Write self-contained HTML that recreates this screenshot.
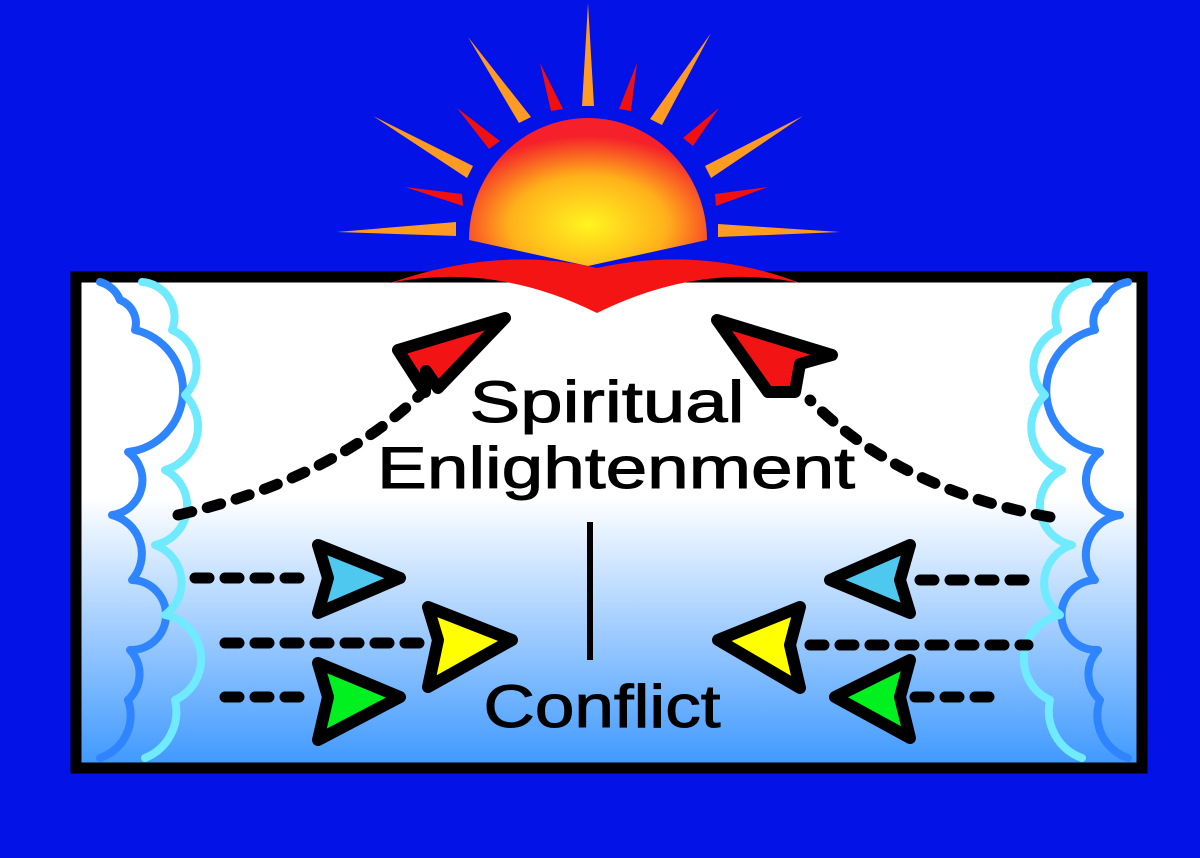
<!DOCTYPE html>
<html><head><meta charset="utf-8"><style>
html,body{margin:0;padding:0;background:#0312e6;}
svg{display:block}
</style></head><body>
<svg width="1200" height="858" viewBox="0 0 1200 858" xmlns="http://www.w3.org/2000/svg">
<defs>
<linearGradient id="bg" x1="0" y1="0" x2="0" y2="1">
<stop offset="0" stop-color="#fff"/><stop offset="0.45" stop-color="#fff"/><stop offset="1" stop-color="#3d98ff"/>
</linearGradient>
<radialGradient id="sun" cx="0.5" cy="0.72" r="0.6">
<stop offset="0" stop-color="#fff420"/><stop offset="0.55" stop-color="#ffb11a"/><stop offset="1" stop-color="#f5202a"/>
</radialGradient>
</defs>
<rect width="1200" height="858" fill="#0312e6"/>
<rect x="76" y="277" width="1066" height="491" fill="url(#bg)" stroke="#000" stroke-width="11"/>
<g fill="#ff9a22">
<polygon points="588,3 582,106 594,106"/>
<polygon points="468,37 519,123 531,117"/>
<polygon points="711,33 650,119 662,125"/>
<polygon points="373,116 467,178 473,166"/>
<polygon points="803,116 705,166 711,178"/>
<polygon points="337,232 456,222 456,236"/>
<polygon points="840,232 718,224 718,237"/>
</g>
<g fill="#f01010">
<polygon points="540,63 551,111 563,109"/>
<polygon points="637,63 619,109 631,111"/>
<polygon points="457,108 489,149 500,141"/>
<polygon points="719,108 683,138 693,146"/>
<polygon points="405,187 462,194 463,206"/>
<polygon points="768,187 715,194 716,206"/>
</g>
<path d="M469,240 A119,122 0 0 1 707,240 L588,266 Z" fill="url(#sun)"/>
<path d="M390,283 Q500,245 597,268 Q700,245 800,283 Q700,262 597,313 Q495,262 390,283 Z" fill="#f41414"/>
<g fill="none" stroke-width="8" stroke-linecap="round" stroke-linejoin="round">
<path d="M100,282 A30,30 0 0 1 120,300 A25,25 0 0 1 135,330 A62,62 0 0 1 128,452 A35,35 0 0 1 112,515 A40,40 0 0 1 132,580 A35,35 0 0 1 130,650 A35,35 0 0 1 128,700 A45,45 0 0 1 100,758" stroke="#2f85ff"/>
<path d="M142,282 A35,35 0 0 1 172,330 A40,40 0 0 1 185,395 A45,45 0 0 1 165,470 A40,40 0 0 1 155,545 A40,40 0 0 1 165,615 A45,45 0 0 1 175,700 A50,50 0 0 1 145,758" stroke="#70eaff"/>
<path d="M1128,282 A30,30 0 0 0 1105,300 A25,25 0 0 0 1095,330 A62,62 0 0 0 1100,452 A35,35 0 0 0 1120,515 A40,40 0 0 0 1095,580 A35,35 0 0 0 1098,650 A35,35 0 0 0 1100,700 A45,45 0 0 0 1128,758" stroke="#2f85ff"/>
<path d="M1088,282 A35,35 0 0 0 1058,330 A40,40 0 0 0 1045,395 A45,45 0 0 0 1062,470 A40,40 0 0 0 1072,545 A40,40 0 0 0 1060,615 A45,45 0 0 0 1050,700 A50,50 0 0 0 1082,758" stroke="#70eaff"/>
</g>
<g fill="none" stroke="#000" stroke-width="11" stroke-linecap="round" stroke-dasharray="14 16">
<path d="M178,515 Q330,480 420,395"/>
<path d="M1050,517 Q900,490 810,400"/>
<path d="M195,578 H310"/>
<path d="M225,643 H420"/>
<path d="M225,697 H315"/>
<path d="M920,580 H1030"/>
<path d="M810,645 H1028"/>
<path d="M915,697 H1005"/>
</g>
<g stroke="#000" stroke-width="12" stroke-linejoin="round">
<polygon points="398,350 505,318 438,388 426,371 425,392" fill="#f21414"/>
<polygon points="717,320 832,355 800,364 795,392 768,392" fill="#f21414"/>
<polygon points="400,578 318,545 328,578 318,613" fill="#4fc8f0"/>
<polygon points="512,640 428,607 438,640 428,687" fill="#ffff00"/>
<polygon points="400,697 318,663 328,697 318,740" fill="#00f020"/>
<polygon points="830,580 910,545 900,580 910,613" fill="#4fc8f0"/>
<polygon points="718,640 800,607 790,645 800,688" fill="#ffff00"/>
<polygon points="835,697 910,660 900,697 910,738" fill="#00f020"/>
</g>
<rect x="587" y="522" width="6" height="138" fill="#000"/>
<g font-family="Liberation Sans, sans-serif" fill="#000" stroke="#000" stroke-width="1" text-anchor="middle">
<text x="607" y="422" font-size="58" textLength="275" lengthAdjust="spacingAndGlyphs">Spiritual</text>
<text x="616" y="488" font-size="58" textLength="478" lengthAdjust="spacingAndGlyphs">Enlightenment</text>
<text x="602" y="727" font-size="60" textLength="237" lengthAdjust="spacingAndGlyphs">Conflict</text>
</g>
</svg>
</body></html>
